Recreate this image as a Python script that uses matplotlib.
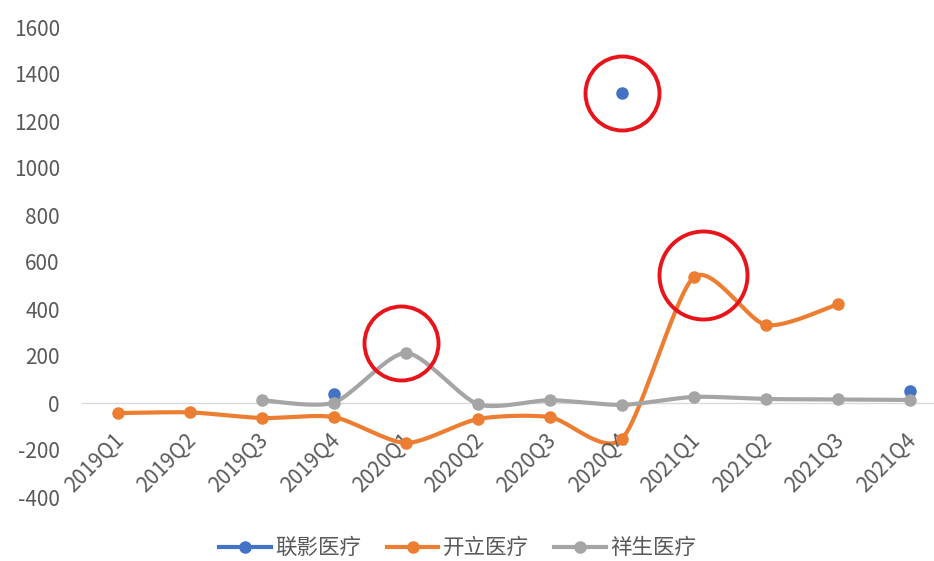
import numpy as np
import matplotlib.pyplot as plt
from matplotlib.lines import Line2D
from matplotlib import transforms

plt.rcParams['font.family'] = ['Noto Sans CJK SC', 'DejaVu Sans']
plt.rcParams['axes.unicode_minus'] = False

nan = np.nan
quarters = ['2019Q1', '2019Q2', '2019Q3', '2019Q4', '2020Q1', '2020Q2',
            '2020Q3', '2020Q4', '2021Q1', '2021Q2', '2021Q3', '2021Q4']
lianying = [nan, nan, nan, 40, nan, nan, nan, 1320, nan, nan, nan, 50]
kaili = [-43, -40, -64, -60, -170, -68, -60, -152, 536, 332, 421, nan]
xiangsheng = [nan, nan, 12, 2, 213, -5, 12, -8, 26, 17, 15, 13]
names = ['联影医疗', '开立医疗', '祥生医疗']
colors = ['#4472C4', '#ED7D31', '#A5A5A5']

fig = plt.figure(figsize=(9.34, 5.61), dpi=100)
ax = fig.add_axes([82 / 934, 64 / 561, 864 / 934, 470 / 561])
ax.set_xlim(-0.5, 11.5)
ax.set_ylim(-400, 1600)
ax.set_yticks(range(-400, 1601, 200))
ax.set_xticks([])
ax.tick_params(axis='y', length=0, pad=16, labelsize=15, labelcolor='#595959')
for s in ax.spines.values():
    s.set_visible(False)
ax.axhline(0, color='#D9D9D9', lw=1, zorder=1)


def smooth(xs, ys, k=8):
    # excel-like smoothed line, bezier built in pixel space
    pts = ax.transData.transform(np.column_stack([xs, ys]))
    out = [pts[0]]
    t = np.linspace(0, 1, 25)[1:, None]
    n = len(pts)
    for i in range(n - 1):
        p0 = pts[max(i - 1, 0)]
        p1, p2 = pts[i], pts[i + 1]
        p3 = pts[min(i + 2, n - 1)]
        c1 = p1 + (p2 - p0) / k
        c2 = p2 - (p3 - p1) / k
        seg = ((1 - t) ** 3) * p1 + 3 * ((1 - t) ** 2) * t * c1 + 3 * (1 - t) * t ** 2 * c2 + t ** 3 * p2
        out.extend(seg)
    return ax.transData.inverted().transform(np.array(out))


x = np.arange(len(quarters))
for vals, c in zip([lianying, kaili, xiangsheng], colors):
    v = np.array(vals, dtype=float)
    ok = ~np.isnan(v)
    # split into runs without gaps
    runs, cur = [], []
    for i in range(len(v)):
        if ok[i]:
            cur.append(i)
        elif cur:
            runs.append(cur)
            cur = []
    if cur:
        runs.append(cur)
    for r in runs:
        if len(r) > 1:
            curve = smooth(x[r], v[r])
            ax.plot(curve[:, 0], curve[:, 1], color=c, lw=3, solid_capstyle='round', zorder=3)
    ax.plot(x[ok], v[ok], 'o', color=c, ms=8, zorder=4)

# category labels sit under the zero line
for i, q in enumerate(quarters):
    tr = transforms.offset_copy(ax.transData, fig, x=3, y=-34, units='dots')
    ax.text(i, 0, q, transform=tr, rotation=45, rotation_mode='anchor',
            ha='right', va='center', fontsize=15, color='#595959')

# red highlight circles
marks = [(4, xiangsheng[4], -5, 10, 37), (7, lianying[7], 0, 0, 37), (8, kaili[8], 9, 2, 44)]
for xi, yi, dx, dy, r in marks:
    tr = transforms.offset_copy(ax.transData, fig, x=dx, y=dy, units='dots')
    ax.plot([xi], [yi], 'o', transform=tr, ms=2 * r * 0.72, mfc='none',
            mec='#E8141B', mew=2.8, zorder=5)

handles = [Line2D([], [], color=c, lw=3, marker='o', ms=8) for c in colors]
fig.legend(handles, names, loc='center', bbox_to_anchor=(0.49, 0.023), ncol=3,
           frameon=False, fontsize=15.5, handlelength=2.4, handletextpad=0.2,
           columnspacing=1.2, labelcolor='#595959')

fig.savefig('out.png', dpi=100)
